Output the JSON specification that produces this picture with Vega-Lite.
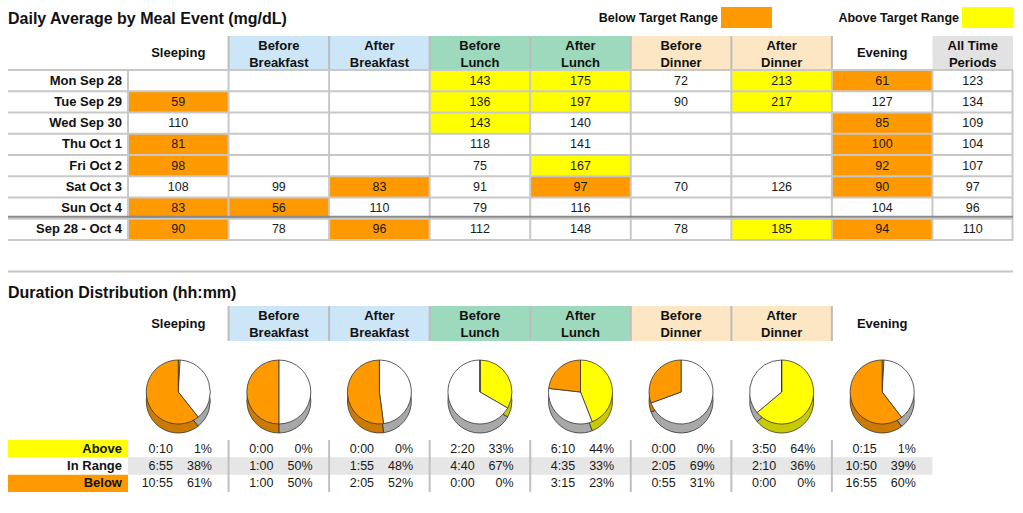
{
  "$schema": "https://vega.github.io/schema/vega-lite/v6.json",
  "width": 1023,
  "height": 513,
  "autosize": {"type": "none"},
  "padding": 0,
  "background": "white",
  "config": {
    "view": {"stroke": null},
    "axis": {"disable": true},
    "legend": {"disable": true},
    "font": "Liberation Sans",
    "text": {"font": "Liberation Sans", "color": "#111111"}
  },
  "datasets": {
    "legend": [
      {"status": "Below", "label": "Below Target Range"},
      {"status": "Above", "label": "Above Target Range"}
    ],
    "headers": [
      {"meal": "Sleeping", "group": "None"},
      {"meal": "Before Breakfast", "group": "Breakfast"},
      {"meal": "After Breakfast", "group": "Breakfast"},
      {"meal": "Before Lunch", "group": "Lunch"},
      {"meal": "After Lunch", "group": "Lunch"},
      {"meal": "Before Dinner", "group": "Dinner"},
      {"meal": "After Dinner", "group": "Dinner"},
      {"meal": "Evening", "group": "None"},
      {"meal": "All Time Periods", "group": "All"}
    ],
    "cells": [
      {"day": "Mon Sep 28", "meal": "Sleeping", "value": null, "status": "None"},
      {"day": "Mon Sep 28", "meal": "Before Breakfast", "value": null, "status": "None"},
      {"day": "Mon Sep 28", "meal": "After Breakfast", "value": null, "status": "None"},
      {"day": "Mon Sep 28", "meal": "Before Lunch", "value": 143, "status": "Above"},
      {"day": "Mon Sep 28", "meal": "After Lunch", "value": 175, "status": "Above"},
      {"day": "Mon Sep 28", "meal": "Before Dinner", "value": 72, "status": "In"},
      {"day": "Mon Sep 28", "meal": "After Dinner", "value": 213, "status": "Above"},
      {"day": "Mon Sep 28", "meal": "Evening", "value": 61, "status": "Below"},
      {"day": "Mon Sep 28", "meal": "All Time Periods", "value": 123, "status": "In"},
      {"day": "Tue Sep 29", "meal": "Sleeping", "value": 59, "status": "Below"},
      {"day": "Tue Sep 29", "meal": "Before Breakfast", "value": null, "status": "None"},
      {"day": "Tue Sep 29", "meal": "After Breakfast", "value": null, "status": "None"},
      {"day": "Tue Sep 29", "meal": "Before Lunch", "value": 136, "status": "Above"},
      {"day": "Tue Sep 29", "meal": "After Lunch", "value": 197, "status": "Above"},
      {"day": "Tue Sep 29", "meal": "Before Dinner", "value": 90, "status": "In"},
      {"day": "Tue Sep 29", "meal": "After Dinner", "value": 217, "status": "Above"},
      {"day": "Tue Sep 29", "meal": "Evening", "value": 127, "status": "In"},
      {"day": "Tue Sep 29", "meal": "All Time Periods", "value": 134, "status": "In"},
      {"day": "Wed Sep 30", "meal": "Sleeping", "value": 110, "status": "In"},
      {"day": "Wed Sep 30", "meal": "Before Breakfast", "value": null, "status": "None"},
      {"day": "Wed Sep 30", "meal": "After Breakfast", "value": null, "status": "None"},
      {"day": "Wed Sep 30", "meal": "Before Lunch", "value": 143, "status": "Above"},
      {"day": "Wed Sep 30", "meal": "After Lunch", "value": 140, "status": "In"},
      {"day": "Wed Sep 30", "meal": "Before Dinner", "value": null, "status": "None"},
      {"day": "Wed Sep 30", "meal": "After Dinner", "value": null, "status": "None"},
      {"day": "Wed Sep 30", "meal": "Evening", "value": 85, "status": "Below"},
      {"day": "Wed Sep 30", "meal": "All Time Periods", "value": 109, "status": "In"},
      {"day": "Thu Oct 1", "meal": "Sleeping", "value": 81, "status": "Below"},
      {"day": "Thu Oct 1", "meal": "Before Breakfast", "value": null, "status": "None"},
      {"day": "Thu Oct 1", "meal": "After Breakfast", "value": null, "status": "None"},
      {"day": "Thu Oct 1", "meal": "Before Lunch", "value": 118, "status": "In"},
      {"day": "Thu Oct 1", "meal": "After Lunch", "value": 141, "status": "In"},
      {"day": "Thu Oct 1", "meal": "Before Dinner", "value": null, "status": "None"},
      {"day": "Thu Oct 1", "meal": "After Dinner", "value": null, "status": "None"},
      {"day": "Thu Oct 1", "meal": "Evening", "value": 100, "status": "Below"},
      {"day": "Thu Oct 1", "meal": "All Time Periods", "value": 104, "status": "In"},
      {"day": "Fri Oct 2", "meal": "Sleeping", "value": 98, "status": "Below"},
      {"day": "Fri Oct 2", "meal": "Before Breakfast", "value": null, "status": "None"},
      {"day": "Fri Oct 2", "meal": "After Breakfast", "value": null, "status": "None"},
      {"day": "Fri Oct 2", "meal": "Before Lunch", "value": 75, "status": "In"},
      {"day": "Fri Oct 2", "meal": "After Lunch", "value": 167, "status": "Above"},
      {"day": "Fri Oct 2", "meal": "Before Dinner", "value": null, "status": "None"},
      {"day": "Fri Oct 2", "meal": "After Dinner", "value": null, "status": "None"},
      {"day": "Fri Oct 2", "meal": "Evening", "value": 92, "status": "Below"},
      {"day": "Fri Oct 2", "meal": "All Time Periods", "value": 107, "status": "In"},
      {"day": "Sat Oct 3", "meal": "Sleeping", "value": 108, "status": "In"},
      {"day": "Sat Oct 3", "meal": "Before Breakfast", "value": 99, "status": "In"},
      {"day": "Sat Oct 3", "meal": "After Breakfast", "value": 83, "status": "Below"},
      {"day": "Sat Oct 3", "meal": "Before Lunch", "value": 91, "status": "In"},
      {"day": "Sat Oct 3", "meal": "After Lunch", "value": 97, "status": "Below"},
      {"day": "Sat Oct 3", "meal": "Before Dinner", "value": 70, "status": "In"},
      {"day": "Sat Oct 3", "meal": "After Dinner", "value": 126, "status": "In"},
      {"day": "Sat Oct 3", "meal": "Evening", "value": 90, "status": "Below"},
      {"day": "Sat Oct 3", "meal": "All Time Periods", "value": 97, "status": "In"},
      {"day": "Sun Oct 4", "meal": "Sleeping", "value": 83, "status": "Below"},
      {"day": "Sun Oct 4", "meal": "Before Breakfast", "value": 56, "status": "Below"},
      {"day": "Sun Oct 4", "meal": "After Breakfast", "value": 110, "status": "In"},
      {"day": "Sun Oct 4", "meal": "Before Lunch", "value": 79, "status": "In"},
      {"day": "Sun Oct 4", "meal": "After Lunch", "value": 116, "status": "In"},
      {"day": "Sun Oct 4", "meal": "Before Dinner", "value": null, "status": "None"},
      {"day": "Sun Oct 4", "meal": "After Dinner", "value": null, "status": "None"},
      {"day": "Sun Oct 4", "meal": "Evening", "value": 104, "status": "In"},
      {"day": "Sun Oct 4", "meal": "All Time Periods", "value": 96, "status": "In"},
      {"day": "Sep 28 - Oct 4", "meal": "Sleeping", "value": 90, "status": "Below"},
      {"day": "Sep 28 - Oct 4", "meal": "Before Breakfast", "value": 78, "status": "In"},
      {"day": "Sep 28 - Oct 4", "meal": "After Breakfast", "value": 96, "status": "Below"},
      {"day": "Sep 28 - Oct 4", "meal": "Before Lunch", "value": 112, "status": "In"},
      {"day": "Sep 28 - Oct 4", "meal": "After Lunch", "value": 148, "status": "In"},
      {"day": "Sep 28 - Oct 4", "meal": "Before Dinner", "value": 78, "status": "In"},
      {"day": "Sep 28 - Oct 4", "meal": "After Dinner", "value": 185, "status": "Above"},
      {"day": "Sep 28 - Oct 4", "meal": "Evening", "value": 94, "status": "Below"},
      {"day": "Sep 28 - Oct 4", "meal": "All Time Periods", "value": 110, "status": "In"}
    ],
    "dur": [
      {"meal": "Sleeping", "status": "Above", "minutes": 10, "time": "0:10", "pct": "1%"},
      {"meal": "Sleeping", "status": "In Range", "minutes": 415, "time": "6:55", "pct": "38%"},
      {"meal": "Sleeping", "status": "Below", "minutes": 655, "time": "10:55", "pct": "61%"},
      {"meal": "Before Breakfast", "status": "Above", "minutes": 0, "time": "0:00", "pct": "0%"},
      {"meal": "Before Breakfast", "status": "In Range", "minutes": 60, "time": "1:00", "pct": "50%"},
      {"meal": "Before Breakfast", "status": "Below", "minutes": 60, "time": "1:00", "pct": "50%"},
      {"meal": "After Breakfast", "status": "Above", "minutes": 0, "time": "0:00", "pct": "0%"},
      {"meal": "After Breakfast", "status": "In Range", "minutes": 115, "time": "1:55", "pct": "48%"},
      {"meal": "After Breakfast", "status": "Below", "minutes": 125, "time": "2:05", "pct": "52%"},
      {"meal": "Before Lunch", "status": "Above", "minutes": 140, "time": "2:20", "pct": "33%"},
      {"meal": "Before Lunch", "status": "In Range", "minutes": 280, "time": "4:40", "pct": "67%"},
      {"meal": "Before Lunch", "status": "Below", "minutes": 0, "time": "0:00", "pct": "0%"},
      {"meal": "After Lunch", "status": "Above", "minutes": 370, "time": "6:10", "pct": "44%"},
      {"meal": "After Lunch", "status": "In Range", "minutes": 275, "time": "4:35", "pct": "33%"},
      {"meal": "After Lunch", "status": "Below", "minutes": 195, "time": "3:15", "pct": "23%"},
      {"meal": "Before Dinner", "status": "Above", "minutes": 0, "time": "0:00", "pct": "0%"},
      {"meal": "Before Dinner", "status": "In Range", "minutes": 125, "time": "2:05", "pct": "69%"},
      {"meal": "Before Dinner", "status": "Below", "minutes": 55, "time": "0:55", "pct": "31%"},
      {"meal": "After Dinner", "status": "Above", "minutes": 230, "time": "3:50", "pct": "64%"},
      {"meal": "After Dinner", "status": "In Range", "minutes": 130, "time": "2:10", "pct": "36%"},
      {"meal": "After Dinner", "status": "Below", "minutes": 0, "time": "0:00", "pct": "0%"},
      {"meal": "Evening", "status": "Above", "minutes": 15, "time": "0:15", "pct": "1%"},
      {"meal": "Evening", "status": "In Range", "minutes": 650, "time": "10:50", "pct": "39%"},
      {"meal": "Evening", "status": "Below", "minutes": 1015, "time": "16:55", "pct": "60%"}
    ]
  },
  "resolve": {"scale": {"x": "independent", "y": "independent", "fill": "independent", "theta": "independent"}},
  "layer": [
    {
      "data": {"values": [{"t": "Daily Average by Meal Event (mg/dL)"}]},
      "mark": {"type": "text", "align": "left", "baseline": "middle", "fontSize": 16, "fontWeight": "bold"},
      "encoding": {
        "x": {"datum": "span", "type": "nominal", "bandPosition": 0, "scale": {"type": "band", "domain": ["span"], "range": [8, 1013], "paddingInner": 0, "paddingOuter": 0}},
        "y": {"datum": "t", "type": "nominal", "scale": {"type": "band", "domain": ["t"], "range": [9, 28], "paddingInner": 0, "paddingOuter": 0}},
        "text": {"field": "t"}
      }
    },
    {
      "data": {"name": "legend"},
      "layer": [
        {
          "mark": {"type": "rect", "width": 51, "xOffset": -25.5},
          "encoding": {
            "x": {"field": "status", "type": "nominal", "scale": {"type": "point", "domain": ["Below", "Above"], "range": [772, 1013], "padding": 0}},
            "y": {"datum": "t", "type": "nominal", "scale": {"type": "band", "domain": ["t"], "range": [7, 28], "paddingInner": 0, "paddingOuter": 0}},
            "fill": {"field": "status", "type": "nominal", "scale": {"domain": ["Below", "Above"], "range": ["#ff9900", "#ffff00"]}}
          }
        },
        {
          "mark": {"type": "text", "align": "right", "baseline": "middle", "xOffset": -54, "fontSize": 12.5, "fontWeight": "bold"},
          "encoding": {
            "x": {"field": "status", "type": "nominal", "scale": {"type": "point", "domain": ["Below", "Above"], "range": [772, 1013], "padding": 0}},
            "y": {"datum": "t", "type": "nominal", "scale": {"type": "band", "domain": ["t"], "range": [7, 28], "paddingInner": 0, "paddingOuter": 0}},
            "text": {"field": "label"}
          }
        }
      ]
    },
    {
      "data": {"name": "headers"},
      "transform": [{"calculate": "datum.meal == 'All Time Periods' ? ['All Time', 'Periods'] : split(datum.meal, ' ')", "as": "label"}],
      "encoding": {
        "x": {"field": "meal", "type": "nominal", "scale": {"type": "band", "domain": ["Sleeping", "Before Breakfast", "After Breakfast", "Before Lunch", "After Lunch", "Before Dinner", "After Dinner", "Evening", "All Time Periods"], "range": [128, 1033], "paddingInner": 0, "paddingOuter": 0}},
        "y": {"datum": "h", "type": "nominal", "scale": {"type": "band", "domain": ["h"], "range": [36, 70], "paddingInner": 0, "paddingOuter": 0}}
      },
      "layer": [
        {
          "transform": [{"filter": "datum.group != 'None' && datum.group != 'All'"}],
          "mark": {"type": "rect"},
          "encoding": {"fill": {"field": "group", "type": "nominal", "scale": {"domain": ["Breakfast", "Lunch", "Dinner", "All"], "range": ["#cce5f7", "#9cd9bd", "#fde6c3", "#e2e2e2"]}}}
        },
        {
          "transform": [{"filter": "datum.group == 'All'"}],
          "mark": {"type": "rect", "width": 80.5, "xOffset": -10},
          "encoding": {"fill": {"field": "group", "type": "nominal", "scale": {"domain": ["Breakfast", "Lunch", "Dinner", "All"], "range": ["#cce5f7", "#9cd9bd", "#fde6c3", "#e2e2e2"]}}}
        },
        {
          "transform": [{"filter": "datum.meal != 'Sleeping' && datum.meal != 'All Time Periods'"}],
          "mark": {"type": "rule", "stroke": "#bdbdbd", "strokeWidth": 2},
          "encoding": {
            "x": {"field": "meal", "type": "nominal", "bandPosition": 0},
            "y": {"datum": "h", "type": "nominal", "bandPosition": 0},
            "y2": {"datum": "h", "bandPosition": 1}
          }
        },
        {
          "transform": [{"filter": "datum.group == 'None'"}],
          "mark": {"type": "text", "align": "center", "baseline": "middle", "fontSize": 13, "fontWeight": "bold", "lineHeight": 17},
          "encoding": {"text": {"field": "label"}}
        },
        {
          "transform": [{"filter": "datum.group != 'None' && datum.group != 'All'"}],
          "mark": {"type": "text", "align": "center", "baseline": "middle", "fontSize": 13, "fontWeight": "bold", "lineHeight": 17, "yOffset": -7.5},
          "encoding": {"text": {"field": "label"}}
        },
        {
          "transform": [{"filter": "datum.group == 'All'"}],
          "mark": {"type": "text", "align": "center", "baseline": "middle", "fontSize": 13, "fontWeight": "bold", "lineHeight": 17, "xOffset": -10, "yOffset": -7.5},
          "encoding": {"text": {"field": "label"}}
        }
      ]
    },
    {
      "data": {"name": "cells"},
      "encoding": {
        "x": {"field": "meal", "type": "nominal", "scale": {"type": "band", "domain": ["Sleeping", "Before Breakfast", "After Breakfast", "Before Lunch", "After Lunch", "Before Dinner", "After Dinner", "Evening", "All Time Periods"], "range": [128, 1033], "paddingInner": 0, "paddingOuter": 0}},
        "y": {"field": "day", "type": "nominal", "scale": {"type": "band", "domain": ["Mon Sep 28", "Tue Sep 29", "Wed Sep 30", "Thu Oct 1", "Fri Oct 2", "Sat Oct 3", "Sun Oct 4", "Sep 28 - Oct 4"], "range": [70, 240], "paddingInner": 0, "paddingOuter": 0}}
      },
      "layer": [
        {
          "transform": [{"filter": "datum.meal != 'All Time Periods'"}],
          "mark": {"type": "rect"},
          "encoding": {"fill": {"field": "status", "type": "nominal", "scale": {"domain": ["Below", "Above", "In", "None"], "range": ["#ff9900", "#ffff00", "#ffffff", "#ffffff"]}}}
        },
        {
          "transform": [{"filter": "datum.meal == 'All Time Periods'"}],
          "mark": {"type": "rect", "width": 80.5, "xOffset": -10},
          "encoding": {"fill": {"field": "status", "type": "nominal", "scale": {"domain": ["Below", "Above", "In", "None"], "range": ["#ff9900", "#ffff00", "#ffffff", "#ffffff"]}}}
        },
        {
          "mark": {"type": "rule", "stroke": "#c8c8c8", "strokeWidth": 2},
          "encoding": {
            "x": {"field": "meal", "type": "nominal", "bandPosition": 0},
            "y": {"field": "day", "type": "nominal", "bandPosition": 0},
            "y2": {"field": "day", "bandPosition": 1}
          }
        },
        {
          "transform": [{"filter": "datum.meal == 'All Time Periods'"}],
          "mark": {"type": "rule", "stroke": "#c8c8c8", "strokeWidth": 2},
          "encoding": {
            "x": {"field": "meal", "type": "nominal", "bandPosition": 0.796},
            "y": {"field": "day", "type": "nominal", "bandPosition": 0},
            "y2": {"field": "day", "bandPosition": 1}
          }
        },
        {
          "transform": [{"filter": "isValid(datum.value) && datum.meal != 'All Time Periods'"}],
          "mark": {"type": "text", "align": "center", "baseline": "middle", "fontSize": 12.5, "color": "#1a1a1a"},
          "encoding": {"text": {"field": "value", "type": "nominal"}}
        },
        {
          "transform": [{"filter": "isValid(datum.value) && datum.meal == 'All Time Periods'"}],
          "mark": {"type": "text", "align": "center", "baseline": "middle", "fontSize": 12.5, "color": "#1a1a1a", "xOffset": -10},
          "encoding": {"text": {"field": "value", "type": "nominal"}}
        }
      ]
    },
    {
      "data": {"name": "cells"},
      "transform": [{"filter": "datum.meal == 'Sleeping'"}],
      "encoding": {
        "x": {"datum": "span", "type": "nominal", "bandPosition": 0, "scale": {"type": "band", "domain": ["span"], "range": [8, 1013], "paddingInner": 0, "paddingOuter": 0}},
        "x2": {"datum": "span", "bandPosition": 1}
      },
      "layer": [
        {
          "mark": {"type": "rule", "stroke": "#c8c8c8", "strokeWidth": 2},
          "encoding": {"y": {"field": "day", "type": "nominal", "bandPosition": 0, "scale": {"type": "band", "domain": ["Mon Sep 28", "Tue Sep 29", "Wed Sep 30", "Thu Oct 1", "Fri Oct 2", "Sat Oct 3", "Sun Oct 4", "Sep 28 - Oct 4"], "range": [70, 240], "paddingInner": 0, "paddingOuter": 0}}}
        },
        {
          "transform": [{"filter": "datum.day == 'Sep 28 - Oct 4'"}],
          "mark": {"type": "rule", "stroke": "#c8c8c8", "strokeWidth": 2},
          "encoding": {"y": {"field": "day", "type": "nominal", "bandPosition": 1}}
        },
        {
          "transform": [{"filter": "datum.day == 'Sep 28 - Oct 4'"}],
          "mark": {"type": "rule", "stroke": "#8a8a8a", "strokeWidth": 2, "yOffset": -2},
          "encoding": {"y": {"field": "day", "type": "nominal", "bandPosition": 0}}
        }
      ]
    },
    {
      "data": {"name": "cells"},
      "transform": [{"filter": "datum.meal == 'Sleeping'"}],
      "mark": {"type": "text", "align": "right", "baseline": "middle", "fontSize": 13, "fontWeight": "bold", "xOffset": -6},
      "encoding": {
        "x": {"datum": "label", "type": "nominal", "bandPosition": 1, "scale": {"type": "band", "domain": ["label"], "range": [8, 128], "paddingInner": 0, "paddingOuter": 0}},
        "y": {"field": "day", "type": "nominal", "scale": {"type": "band", "domain": ["Mon Sep 28", "Tue Sep 29", "Wed Sep 30", "Thu Oct 1", "Fri Oct 2", "Sat Oct 3", "Sun Oct 4", "Sep 28 - Oct 4"], "range": [70, 240], "paddingInner": 0, "paddingOuter": 0}},
        "text": {"field": "day"}
      }
    },
    {
      "data": {"values": [{"t": "Duration Distribution (hh:mm)"}]},
      "encoding": {
        "x": {"datum": "span", "type": "nominal", "bandPosition": 0, "scale": {"type": "band", "domain": ["span"], "range": [8, 1013], "paddingInner": 0, "paddingOuter": 0}}
      },
      "layer": [
        {
          "mark": {"type": "rule", "stroke": "#c4c4c4", "strokeWidth": 2},
          "encoding": {
            "x2": {"datum": "span", "bandPosition": 1},
            "y": {"datum": "sep", "type": "nominal", "bandPosition": 0.5, "scale": {"type": "band", "domain": ["sep", "t"], "range": [261, 303], "paddingInner": 0, "paddingOuter": 0}}
          }
        },
        {
          "mark": {"type": "text", "align": "left", "baseline": "middle", "fontSize": 16, "fontWeight": "bold"},
          "encoding": {
            "y": {"datum": "t", "type": "nominal", "bandPosition": 0.5},
            "text": {"field": "t"}
          }
        }
      ]
    },
    {
      "data": {"name": "headers"},
      "transform": [
        {"filter": "datum.meal != 'All Time Periods'"},
        {"calculate": "split(datum.meal, ' ')", "as": "label"}
      ],
      "encoding": {
        "x": {"field": "meal", "type": "nominal", "scale": {"type": "band", "domain": ["Sleeping", "Before Breakfast", "After Breakfast", "Before Lunch", "After Lunch", "Before Dinner", "After Dinner", "Evening", "All Time Periods"], "range": [128, 1033], "paddingInner": 0, "paddingOuter": 0}},
        "y": {"datum": "h", "type": "nominal", "scale": {"type": "band", "domain": ["h"], "range": [306, 341], "paddingInner": 0, "paddingOuter": 0}}
      },
      "layer": [
        {
          "transform": [{"filter": "datum.group != 'None'"}],
          "mark": {"type": "rect"},
          "encoding": {"fill": {"field": "group", "type": "nominal", "scale": {"domain": ["Breakfast", "Lunch", "Dinner"], "range": ["#cce5f7", "#9cd9bd", "#fde6c3"]}}}
        },
        {
          "transform": [{"filter": "datum.meal != 'Sleeping'"}],
          "mark": {"type": "rule", "stroke": "#bdbdbd", "strokeWidth": 2},
          "encoding": {
            "x": {"field": "meal", "type": "nominal", "bandPosition": 0},
            "y": {"datum": "h", "type": "nominal", "bandPosition": 0},
            "y2": {"datum": "h", "bandPosition": 1}
          }
        },
        {
          "transform": [{"filter": "datum.group == 'None'"}],
          "mark": {"type": "text", "align": "center", "baseline": "middle", "fontSize": 13, "fontWeight": "bold", "lineHeight": 17},
          "encoding": {"text": {"field": "label"}}
        },
        {
          "transform": [{"filter": "datum.group != 'None'"}],
          "mark": {"type": "text", "align": "center", "baseline": "middle", "fontSize": 13, "fontWeight": "bold", "lineHeight": 17, "yOffset": -7.5},
          "encoding": {"text": {"field": "label"}}
        }
      ]
    },
    {
      "data": {"name": "dur"},
      "transform": [
        {"calculate": "indexof(['Above', 'In Range', 'Below'], datum.status)", "as": "k"},
        {"stack": "minutes", "groupby": ["meal"], "sort": [{"field": "k", "order": "ascending"}], "offset": "normalize", "as": ["t0", "t1"]}
      ],
      "resolve": {"scale": {"fill": "independent"}},
      "encoding": {
        "x": {"field": "meal", "type": "nominal", "scale": {"type": "band", "domain": ["Sleeping", "Before Breakfast", "After Breakfast", "Before Lunch", "After Lunch", "Before Dinner", "After Dinner", "Evening", "All Time Periods"], "range": [128, 1033], "paddingInner": 0, "paddingOuter": 0}},
        "y": {"datum": "pie", "type": "nominal", "scale": {"type": "band", "domain": ["pie"], "range": [361, 423], "paddingInner": 0, "paddingOuter": 0}},
        "theta": {"field": "t0", "type": "quantitative", "scale": {"domain": [0, 1], "range": [0, 6.283185307]}},
        "theta2": {"field": "t1"}
      },
      "layer": [
        {
          "mark": {"type": "arc", "radius": 32, "yOffset": 9, "stroke": "#333333", "strokeWidth": 0.8},
          "encoding": {"fill": {"field": "status", "type": "nominal", "scale": {"domain": ["Above", "In Range", "Below"], "range": ["#c9c900", "#a8a8a8", "#cc7a00"]}}}
        },
        {
          "mark": {"type": "arc", "radius": 32, "stroke": "#333333", "strokeWidth": 0.8},
          "encoding": {"fill": {"field": "status", "type": "nominal", "scale": {"domain": ["Above", "In Range", "Below"], "range": ["#ffff00", "#ffffff", "#ff9900"]}}}
        }
      ]
    },
    {
      "data": {"name": "dur"},
      "encoding": {
        "x": {"field": "meal", "type": "nominal", "scale": {"type": "band", "domain": ["Sleeping", "Before Breakfast", "After Breakfast", "Before Lunch", "After Lunch", "Before Dinner", "After Dinner", "Evening", "All Time Periods"], "range": [128, 1033], "paddingInner": 0, "paddingOuter": 0}},
        "y": {"field": "status", "type": "nominal", "scale": {"type": "band", "domain": ["Above", "In Range", "Below"], "range": [440, 492], "paddingInner": 0, "paddingOuter": 0}}
      },
      "layer": [
        {
          "transform": [{"filter": "datum.status == 'In Range'"}],
          "mark": {"type": "rect", "color": "#e6e6e6"}
        },
        {
          "transform": [{"filter": "datum.meal != 'Sleeping' && datum.status == 'Above'"}],
          "mark": {"type": "rule", "stroke": "#c0c0c0", "strokeWidth": 2},
          "encoding": {
            "x": {"field": "meal", "type": "nominal", "bandPosition": 0},
            "y": {"datum": "Above", "type": "nominal", "bandPosition": 0},
            "y2": {"datum": "Below", "bandPosition": 1}
          }
        },
        {
          "mark": {"type": "text", "align": "right", "baseline": "middle", "fontSize": 12.5, "color": "#1a1a1a"},
          "encoding": {
            "x": {"field": "meal", "type": "nominal", "bandPosition": 0.447},
            "text": {"field": "time"}
          }
        },
        {
          "mark": {"type": "text", "align": "right", "baseline": "middle", "fontSize": 12.5, "color": "#1a1a1a"},
          "encoding": {
            "x": {"field": "meal", "type": "nominal", "bandPosition": 0.835},
            "text": {"field": "pct"}
          }
        }
      ]
    },
    {
      "data": {"name": "dur"},
      "transform": [{"filter": "datum.meal == 'Sleeping'"}],
      "encoding": {
        "x": {"datum": "label", "type": "nominal", "scale": {"type": "band", "domain": ["label"], "range": [8, 128], "paddingInner": 0, "paddingOuter": 0}},
        "y": {"field": "status", "type": "nominal", "scale": {"type": "band", "domain": ["Above", "In Range", "Below"], "range": [440, 492], "paddingInner": 0, "paddingOuter": 0}}
      },
      "layer": [
        {
          "mark": {"type": "rect"},
          "encoding": {"fill": {"field": "status", "type": "nominal", "scale": {"domain": ["Above", "In Range", "Below"], "range": ["#ffff00", "#ffffff", "#ff9900"]}}}
        },
        {
          "mark": {"type": "text", "align": "right", "baseline": "middle", "fontSize": 13, "fontWeight": "bold", "xOffset": -6},
          "encoding": {
            "x": {"datum": "label", "type": "nominal", "bandPosition": 1},
            "text": {"field": "status"}
          }
        }
      ]
    }
  ]
}
